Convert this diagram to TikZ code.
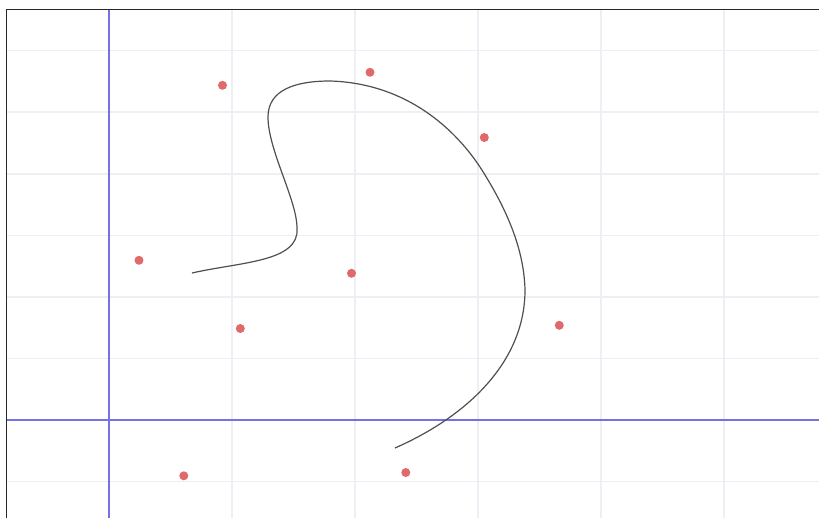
\documentclass[tikz,border=0pt]{standalone}
\begin{document}
\begin{tikzpicture}[x=0.02cm,y=-0.02cm,
  gridline/.style={draw={rgb,255:red,238;green,238;blue,244},line width=0.028cm},
  axisline/.style={draw={rgb,255:red,115;green,115;blue,225},line width=0.035cm},
  frameline/.style={draw={rgb,255:red,40;green,40;blue,40},line width=0.035cm},
  dot/.style={circle,fill={rgb,255:red,224;green,106;blue,106},inner sep=0pt,minimum size=0.18cm},
  curveline/.style={draw={rgb,255:red,80;green,80;blue,80},line width=0.024cm}]
\useasboundingbox (0,0) rectangle (819,518);
\fill[white] (0,0) rectangle (819,518);
% grid
\foreach \gx in {232,355,478,601,724} {\draw[gridline] (\gx,9.5) -- (\gx,518);}
\foreach \gy in {50.5,112,174,235.5,297,358.5,481.5} {\draw[gridline] (6.5,\gy) -- (819,\gy);}
% axes
\draw[axisline] (109,9.5) -- (109,518);
\draw[axisline] (6.5,420) -- (819,420);
% frame
\draw[frameline] (6.5,518) -- (6.5,9.5) -- (819,9.5);
% curve
\coordinate (c0) at (192,273);
\coordinate (c1) at (297,228);
\coordinate (c2) at (268,117);
\coordinate (c3) at (330,81);
\coordinate (c4) at (480,167);
\coordinate (c5) at (525,290);
\coordinate (c6) at (395,448);
\draw[curveline] (c0) .. controls (240,262) and (300,262) .. (c1)
  .. controls (297,200) and (268,150) .. (c2)
  .. controls (268,90) and (295,81) .. (c3)
  .. controls (400,83) and (450,122) .. (c4)
  .. controls (503,203) and (524,245) .. (c5)
  .. controls (525,360) and (470,415) .. (c6);
% points
\node[dot] (p1) at (222.5,85.3) {};
\node[dot] (p2) at (370,72.3) {};
\node[dot] (p3) at (484.3,137.5) {};
\node[dot] (p4) at (139,260.3) {};
\node[dot] (p5) at (351.5,273.3) {};
\node[dot] (p6) at (240.3,328.5) {};
\node[dot] (p7) at (559.3,325.3) {};
\node[dot] (p8) at (183.8,475.8) {};
\node[dot] (p9) at (405.8,472.5) {};
\end{tikzpicture}
\end{document}
